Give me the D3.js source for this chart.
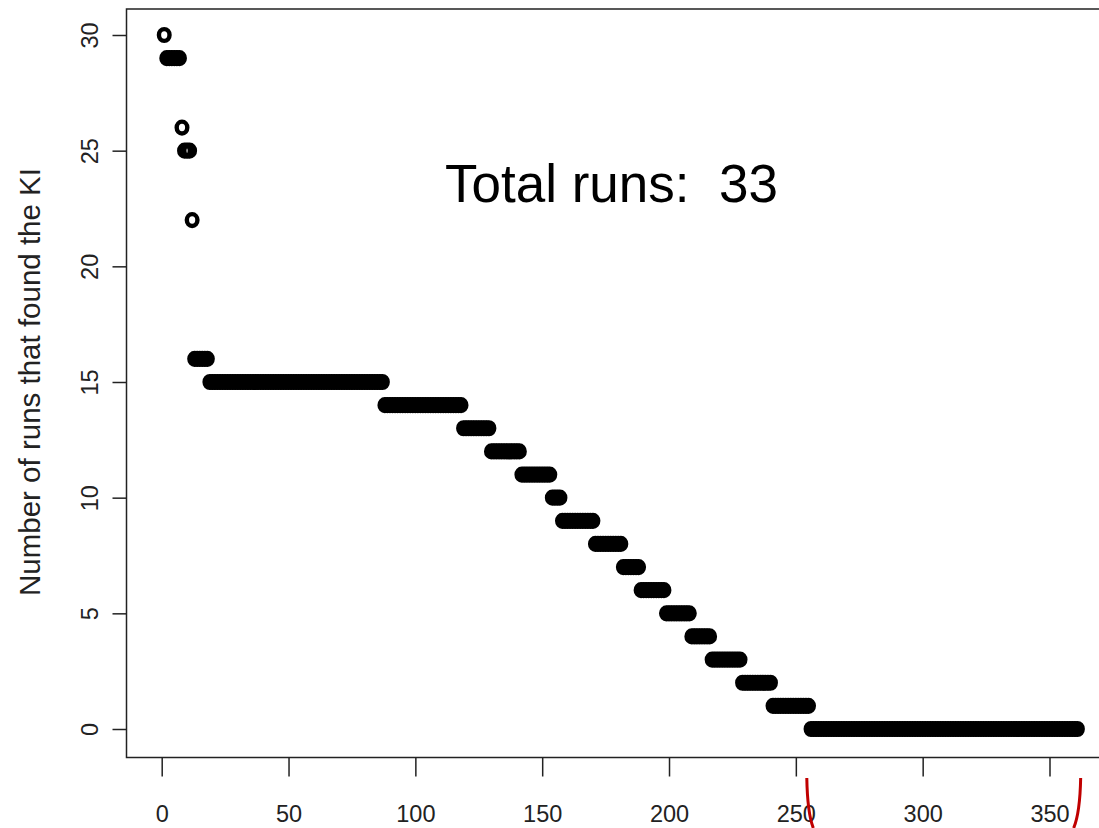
<!DOCTYPE html>
<html>
<head>
<meta charset="utf-8">
<script src="https://cdn.jsdelivr.net/npm/d3@7"></script>
<style>
  body { margin: 0; background: #fff; }
  text { font-family: "Liberation Sans", Arial, sans-serif; }
</style>
</head>
<body>
<div id="chart"></div>
<script>
// runs found per KI, sorted descending: level and how many KIs sit on it
const levels = [30, 29, 26, 25, 22, 16, 15, 14, 13, 12, 11, 10, 9, 8, 7, 6, 5, 4, 3, 2, 1, 0];
const counts = [1, 6, 1, 3, 1, 6, 69, 31, 11, 12, 12, 4, 13, 11, 7, 10, 10, 8, 12, 12, 15, 106];
const xTicks = [0, 50, 100, 150, 200, 250, 300, 350];
const yTicks = [0, 5, 10, 15, 20, 25, 30];
const totalRuns = 33;
const zeroRange = [255.5, 361.5];   // red brackets round the zero block

const svgWidth = 1099, svgHeight = 828;
const frame = { left: 126.5, top: 9, right: 1115, bottom: 757.5 };

// one point per KI
const points = [];
levels.forEach((lv, k) => {
  for (let j = 0; j < counts[k]; j++) points.push({ index: points.length + 1, value: lv });
});

const svg = d3.select('#chart').append('svg')
  .attr('width', svgWidth)
  .attr('height', svgHeight);

const x = d3.scaleLinear().domain([0, 350]).range([161.7, 1049.5]);
const y = d3.scaleLinear().domain([0, 30]).range([729, 35]);

svg.append('rect')
  .attr('x', frame.left)
  .attr('y', frame.top)
  .attr('width', frame.right - frame.left)
  .attr('height', frame.bottom - frame.top)
  .attr('fill', 'none')
  .attr('stroke', '#222')
  .attr('stroke-width', 1.5);

const xAxis = svg.append('g')
  .attr('transform', `translate(0,${frame.bottom})`)
  .call(d3.axisBottom(x).tickValues(xTicks).tickSize(19).tickPadding(29));
xAxis.select('.domain').remove();
xAxis.selectAll('line').attr('stroke', '#222').attr('stroke-width', 1.5);
xAxis.selectAll('text')
  .attr('fill', '#222')
  .style('font-size', '23.5px')
  .style('font-family', '"Liberation Sans", Arial, sans-serif');

const yAxis = svg.append('g')
  .attr('transform', `translate(${frame.left},0)`)
  .call(d3.axisLeft(y).tickValues(yTicks).tickSize(14));
yAxis.select('.domain').remove();
yAxis.selectAll('line').attr('stroke', '#222').attr('stroke-width', 1.5);
yAxis.selectAll('text')
  .attr('x', null)
  .attr('dy', null)
  .attr('text-anchor', 'middle')
  .attr('transform', 'translate(-28.5,0) rotate(-90)')
  .attr('fill', '#222')
  .style('font-size', '23.5px')
  .style('font-family', '"Liberation Sans", Arial, sans-serif');

svg.append('text')
  .attr('transform', `translate(40,${(y(0) + y(30)) / 2})  rotate(-90)`)
  .attr('text-anchor', 'middle')
  .attr('fill', '#222')
  .style('font-size', '29.5px')
  .text('Number of runs that found the KI');

svg.append('g')
  .selectAll('ellipse')
  .data(points)
  .join('ellipse')
  .attr('cx', d => x(d.index))
  .attr('cy', d => y(d.value))
  .attr('rx', 5.3)
  .attr('ry', 5.9)
  .attr('fill', 'none')
  .attr('stroke', '#000')
  .attr('stroke-width', 4.4);

svg.append('text')
  .attr('x', 445)
  .attr('y', 201.7)
  .attr('fill', '#000')
  .style('font-size', '53px')
  .style('white-space', 'pre')
  .text(`Total runs:  ${totalRuns}`);

// bottom halves of the red "( )" round the zero block
const bTop = 778, bBot = svgHeight;
const brackets = [
  { x0: x(zeroRange[0]) - 3, x1: x(zeroRange[0]) + 3.5 },
  { x0: x(zeroRange[1]) + 2, x1: x(zeroRange[1]) - 5 }
];
svg.append('g')
  .selectAll('path')
  .data(brackets)
  .join('path')
  .attr('d', d => `M${d.x0},${bTop} Q${d.x0 + (d.x1 - d.x0) * 0.1},${bTop + 35} ${d.x1},${bBot}`)
  .attr('fill', 'none')
  .attr('stroke', '#c00000')
  .attr('stroke-width', 3);
</script>
</body>
</html>
